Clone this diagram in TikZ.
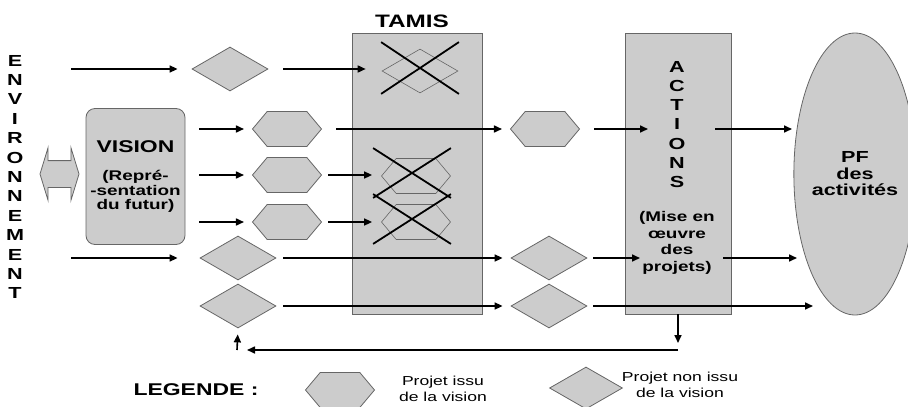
\documentclass[tikz,border=0pt]{standalone}
\usepackage{fontspec}
\setmainfont[FakeStretch=1.35]{Liberation Sans}
\usetikzlibrary{arrows.meta,shapes.geometric,shapes.symbols,shapes.misc,shapes.arrows}

\begin{document}
\begin{tikzpicture}[x=1pt,y=-1pt,
  gris/.style={fill=black!20,draw=black!60,line width=0.8pt},
  hexa/.style={signal,signal to=west and east,signal pointer angle=100,
    minimum width=69pt,minimum height=35pt,inner sep=0pt,gris},
  losange/.style={diamond,minimum width=76pt,minimum height=44pt,inner sep=0pt,gris},
  barre/.style={cross out,draw,line width=1.8pt,minimum width=76pt,minimum height=50pt,inner sep=0pt},
  arr/.style={-{Triangle[length=8pt,width=7pt]},line width=1.6pt},
  sep/.style={shorten <=14pt,shorten >=8pt},
  lettres/.style={align=center,inner sep=0pt}]
  \useasboundingbox (0,0) rectangle (908,407);

  \node[lettres,font=\fontsize{16}{19.4}\selectfont\bfseries] (env) at (15,177)
    {E\\N\\V\\I\\R\\O\\N\\N\\E\\M\\E\\N\\T};
  \node[double arrow,gris,minimum height=39pt,inner xsep=0pt,inner ysep=13pt,
    double arrow head extend=13pt,double arrow tip angle=146] (echange) at (59.5,174) {};
  \node[gris,rounded corners=9pt,minimum width=99pt,minimum height=136pt,align=center,
    font=\fontsize{14}{14.6}\selectfont\bfseries] (vision) at (135.5,176.5)
    {{\fontsize{17}{20}\selectfont VISION}\\[14pt](Repré-\\-sentation\\du futur)};

  \node[gris,minimum width=130pt,minimum height=281pt,inner sep=0pt] (tamis) at (417,173.5) {};
  \node[font=\fontsize{18}{20}\selectfont\bfseries] (ttamis) at (412,21) {TAMIS};
  \node[gris,minimum width=106pt,minimum height=281pt,inner sep=0pt] (actions) at (678,173.5) {};
  \node[lettres,font=\fontsize{16}{19.2}\selectfont\bfseries] (tact) at (677,124.5) {A\\C\\T\\I\\O\\N\\S};
  \node[lettres,font=\fontsize{14}{16.7}\selectfont\bfseries] (tmise) at (677,243)
    {(Mise en\\œuvre\\des\\projets)};
  \node[ellipse,gris,minimum width=112pt,minimum height=282pt,inner sep=0pt,align=center,
    font=\fontsize{16}{16.5}\selectfont\bfseries] (pf) at (855,174) {PF\\des\\activités};

  \node[losange] (d0) at (230,69) {};
  \node[losange] (d4) at (238,258) {};
  \node[losange] (d5) at (238,306) {};
  \node[hexa] (h1) at (287,129) {};
  \node[hexa] (h2) at (287,175) {};
  \node[hexa] (h3) at (287,222) {};
  \node[hexa] (r1) at (545,129) {};
  \node[losange] (r4) at (549,258) {};
  \node[losange] (r5) at (549,306) {};

  \node[losange,fill=none,line width=0.6pt] (t0) at (420,71) {};
  \node[barre] (x0) at (420,68) {};
  \node[hexa,fill=none,line width=0.6pt] (t2) at (416,176) {};
  \node[barre,minimum height=48pt] (x2) at (412,173) {};
  \node[hexa,fill=none,line width=0.6pt] (t3) at (416,222) {};
  \node[barre,minimum height=48pt] (x3) at (412,219) {};

  \coordinate (e0) at (71,69);  \coordinate (e4) at (71,258);
  \coordinate (a1) at (648,129); \coordinate (b1) at (715,129); \coordinate (p1) at (792,129);
  \coordinate (a4) at (640,258); \coordinate (b4) at (723,258); \coordinate (p4) at (797,258);
  \coordinate (p5) at (813,306);
  \coordinate (f1) at (678,350); \coordinate (f2) at (237,350);

  \draw[arr,shorten >=14pt] (e0) -- (d0.west);
  \draw[arr,shorten <=15pt,shorten >=16pt] (d0.east) -- (d0.east -| t0.west);
  \draw[arr,sep] (vision.east |- h1) -- (h1.west);
  \draw[arr,sep] (vision.east |- h2) -- (h2.west);
  \draw[arr,sep] (vision.east |- h3) -- (h3.west);
  \draw[arr,sep] (h1.east) -- (r1.west);
  \draw[arr,shorten <=6pt,shorten >=9pt] (h2.east) -- (h2.east -| t2.west);
  \draw[arr,shorten <=6pt,shorten >=9pt] (h3.east) -- (t3.west);
  \draw[arr,shorten >=22pt] (e4) -- (d4.west);
  \draw[arr,sep,shorten <=7pt] (d4.east) -- (r4.west);
  \draw[arr,sep,shorten <=7pt] (d5.east) -- (r5.west);
  \draw[arr,shorten <=14pt] (r1.east) -- (a1);
  \draw[arr] (b1) -- (p1);
  \draw[arr,shorten <=6pt] (r4.east) -- (a4);
  \draw[arr] (b4) -- (p4);
  \draw[arr,shorten <=6pt] (r5.east) -- (p5);
  \draw[arr,shorten >=7pt] (actions.south) -- (f1);
  \draw[arr,shorten >=10pt] (f1) -- (f2);
  \draw[arr,shorten >=6pt] (f2) -- (d5.south);

  \node[font=\fontsize{17}{18}\selectfont\bfseries] (legende) at (196,390) {LEGENDE :};
  \node[hexa] (lh) at (340,390) {};
  \node[align=center,font=\fontsize{13}{16}\selectfont] (lt1) at (443,389) {Projet issu\\de la vision};
  \node[losange,minimum width=73pt,minimum height=42pt] (ld) at (586,388) {};
  \node[align=center,font=\fontsize{13}{16}\selectfont] (lt2) at (680,385) {Projet non issu\\de la vision};
\end{tikzpicture}
\end{document}
